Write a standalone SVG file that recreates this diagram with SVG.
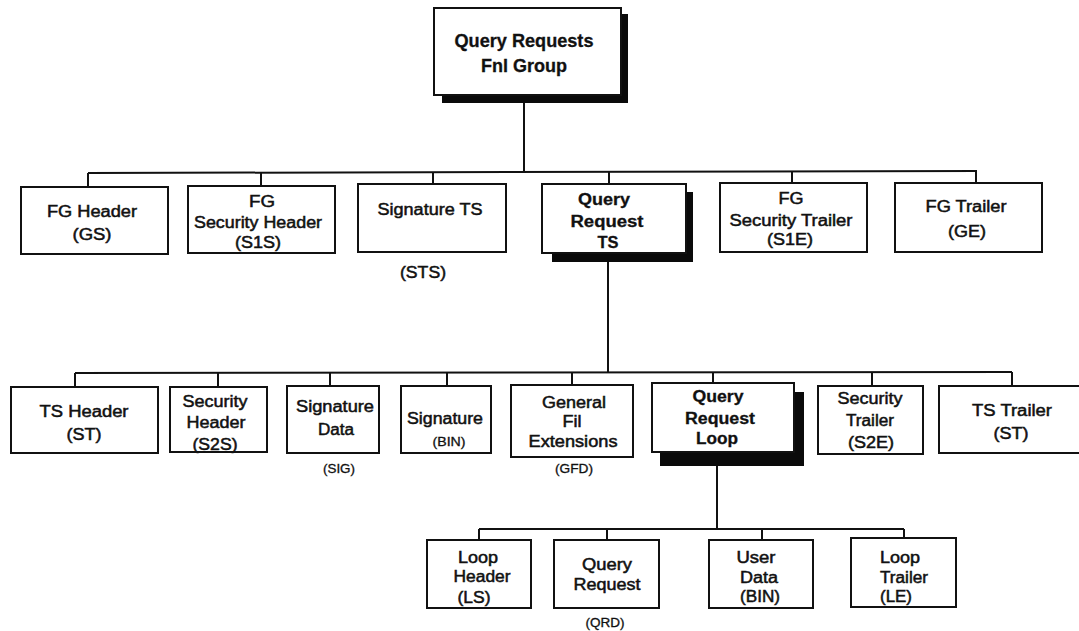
<svg xmlns="http://www.w3.org/2000/svg" width="1079" height="631" viewBox="0 0 1079 631">
<style>
.box{fill:#fff;stroke:#111;stroke-width:2}
.sh{fill:#0a0a0a}
.conn{stroke:#111;stroke-width:2;fill:none}
text{font-family:"Liberation Sans",Arial,Helvetica,sans-serif;font-size:16px;text-anchor:middle;fill:#111;stroke:#111;stroke-width:0.5}
.b{font-weight:bold;stroke-width:0.3}
.big{font-size:18px}
.s{font-size:12px;stroke-width:0.3}
</style>
<rect width="1079" height="631" fill="#fff"/>
<g id="connectors">
<path class="conn" d="M524,103 V172"/>
<path class="conn" d="M88,173 L977,171"/>
<path class="conn" d="M88,173 V187 M261,173 V186 M433,172 V184 M609,172 V184 M792,171 V183 M976,171 V183"/>
<path class="conn" d="M608,262 V372"/>
<path class="conn" d="M75,373 L1012,372"/>
<path class="conn" d="M75,373 V387 M218,373 V387 M330,373 V386 M447,373 V386 M572,373 V385 M713,372 V383 M872,372 V386 M1012,372 V386"/>
<path class="conn" d="M717,466 V529"/>
<path class="conn" d="M479,529 H904"/>
<path class="conn" d="M479,529 V540 M607,529 V540 M762,529 V540 M904,529 V538"/>
</g>
<g id="n-fngroup">
<rect class="sh" x="442" y="14" width="186" height="89"/>
<rect class="box" x="434" y="8" width="187" height="87"/>
<text class="b big" x="524" y="47" textLength="139" lengthAdjust="spacingAndGlyphs">Query Requests</text>
<text class="b big" x="524" y="72" textLength="86" lengthAdjust="spacingAndGlyphs">Fnl Group</text>
</g>
<g id="n-fgheader">
<rect class="box" x="21" y="187" width="147" height="67"/>
<text x="92" y="217" textLength="90" lengthAdjust="spacingAndGlyphs">FG Header</text>
<text x="92" y="240" textLength="39" lengthAdjust="spacingAndGlyphs">(GS)</text>
</g>
<g id="n-fgsecheader">
<rect class="box" x="188" y="186" width="147" height="67"/>
<text x="262" y="207" textLength="26" lengthAdjust="spacingAndGlyphs">FG</text>
<text x="258" y="228" textLength="128" lengthAdjust="spacingAndGlyphs">Security Header</text>
<text x="258" y="248" textLength="46" lengthAdjust="spacingAndGlyphs">(S1S)</text>
</g>
<g id="n-sigts">
<rect class="box" x="358" y="184" width="148" height="68"/>
<text x="430" y="215" textLength="105" lengthAdjust="spacingAndGlyphs">Signature TS</text>
<text x="423" y="278" textLength="46" lengthAdjust="spacingAndGlyphs">(STS)</text>
</g>
<g id="n-qrts">
<rect class="sh" x="552" y="192" width="141" height="70"/>
<rect class="box" x="542" y="184" width="144" height="69"/>
<text class="b" x="604" y="205" textLength="52" lengthAdjust="spacingAndGlyphs">Query</text>
<text class="b" x="607" y="227" textLength="73" lengthAdjust="spacingAndGlyphs">Request</text>
<text class="b" x="608" y="248" textLength="21" lengthAdjust="spacingAndGlyphs">TS</text>
</g>
<g id="n-fgsectrailer">
<rect class="box" x="720" y="183" width="147" height="69"/>
<text x="791" y="204" textLength="25" lengthAdjust="spacingAndGlyphs">FG</text>
<text x="791" y="226" textLength="123" lengthAdjust="spacingAndGlyphs">Security Trailer</text>
<text x="790" y="245" textLength="46" lengthAdjust="spacingAndGlyphs">(S1E)</text>
</g>
<g id="n-fgtrailer">
<rect class="box" x="895" y="183" width="147" height="69"/>
<text x="966" y="212" textLength="81" lengthAdjust="spacingAndGlyphs">FG Trailer</text>
<text x="967" y="237" textLength="38" lengthAdjust="spacingAndGlyphs">(GE)</text>
</g>
<g id="n-tsheader">
<rect class="box" x="11" y="387" width="147" height="66"/>
<text x="84" y="417" textLength="89" lengthAdjust="spacingAndGlyphs">TS Header</text>
<text x="84" y="440" textLength="35" lengthAdjust="spacingAndGlyphs">(ST)</text>
</g>
<g id="n-secheader">
<rect class="box" x="170" y="387" width="97" height="65"/>
<text x="215" y="407" textLength="65" lengthAdjust="spacingAndGlyphs">Security</text>
<text x="216" y="428" textLength="59" lengthAdjust="spacingAndGlyphs">Header</text>
<text x="215" y="450" textLength="45" lengthAdjust="spacingAndGlyphs">(S2S)</text>
</g>
<g id="n-sigdata">
<rect class="box" x="287" y="386" width="92" height="67"/>
<text x="335" y="412" textLength="78" lengthAdjust="spacingAndGlyphs">Signature</text>
<text x="336" y="435" textLength="36" lengthAdjust="spacingAndGlyphs">Data</text>
<text class="s" x="339" y="473" textLength="32" lengthAdjust="spacingAndGlyphs">(SIG)</text>
</g>
<g id="n-signature">
<rect class="box" x="401" y="386" width="90" height="67"/>
<text x="445" y="424" textLength="76" lengthAdjust="spacingAndGlyphs">Signature</text>
<text class="s" x="449" y="446" textLength="33" lengthAdjust="spacingAndGlyphs">(BIN)</text>
</g>
<g id="n-gfe">
<rect class="box" x="511" y="385" width="122" height="72"/>
<text x="574" y="408" textLength="64" lengthAdjust="spacingAndGlyphs">General</text>
<text x="572" y="427" textLength="19" lengthAdjust="spacingAndGlyphs">Fil</text>
<text x="573" y="447" textLength="89" lengthAdjust="spacingAndGlyphs">Extensions</text>
<text class="s" x="574" y="473" textLength="38" lengthAdjust="spacingAndGlyphs">(GFD)</text>
</g>
<g id="n-qrloop">
<rect class="sh" x="660" y="392" width="144" height="74"/>
<rect class="box" x="652" y="383" width="142" height="69"/>
<text class="b" x="718" y="402" textLength="51" lengthAdjust="spacingAndGlyphs">Query</text>
<text class="b" x="720" y="424" textLength="70" lengthAdjust="spacingAndGlyphs">Request</text>
<text class="b" x="717" y="444" textLength="42" lengthAdjust="spacingAndGlyphs">Loop</text>
</g>
<g id="n-sectrailer">
<rect class="box" x="818" y="386" width="105" height="68"/>
<text x="870" y="404" textLength="65" lengthAdjust="spacingAndGlyphs">Security</text>
<text x="870" y="426" textLength="48" lengthAdjust="spacingAndGlyphs">Trailer</text>
<text x="871" y="448" textLength="46" lengthAdjust="spacingAndGlyphs">(S2E)</text>
</g>
<g id="n-tstrailer">
<rect class="box" x="939" y="386" width="146" height="67"/>
<text x="1012" y="416" textLength="80" lengthAdjust="spacingAndGlyphs">TS Trailer</text>
<text x="1011" y="439" textLength="35" lengthAdjust="spacingAndGlyphs">(ST)</text>
</g>
<g id="n-loopheader">
<rect class="box" x="427" y="540" width="104" height="68"/>
<text x="478" y="563" textLength="40" lengthAdjust="spacingAndGlyphs">Loop</text>
<text x="482" y="582" textLength="57" lengthAdjust="spacingAndGlyphs">Header</text>
<text x="474" y="603" textLength="33" lengthAdjust="spacingAndGlyphs">(LS)</text>
</g>
<g id="n-queryrequest">
<rect class="box" x="554" y="540" width="105" height="68"/>
<text x="607" y="570" textLength="50" lengthAdjust="spacingAndGlyphs">Query</text>
<text x="607" y="590" textLength="67" lengthAdjust="spacingAndGlyphs">Request</text>
<text class="s" x="605" y="627" textLength="39" lengthAdjust="spacingAndGlyphs">(QRD)</text>
</g>
<g id="n-userdata">
<rect class="box" x="709" y="540" width="104" height="68"/>
<text x="756" y="563" textLength="39" lengthAdjust="spacingAndGlyphs">User</text>
<text x="759" y="583" textLength="38" lengthAdjust="spacingAndGlyphs">Data</text>
<text x="760" y="602" textLength="40" lengthAdjust="spacingAndGlyphs">(BIN)</text>
</g>
<g id="n-looptrailer">
<rect class="box" x="851" y="538" width="105" height="69"/>
<text x="900" y="563" textLength="40" lengthAdjust="spacingAndGlyphs">Loop</text>
<text x="904" y="583" textLength="48" lengthAdjust="spacingAndGlyphs">Trailer</text>
<text x="896" y="602" textLength="32" lengthAdjust="spacingAndGlyphs">(LE)</text>
</g>
</svg>
